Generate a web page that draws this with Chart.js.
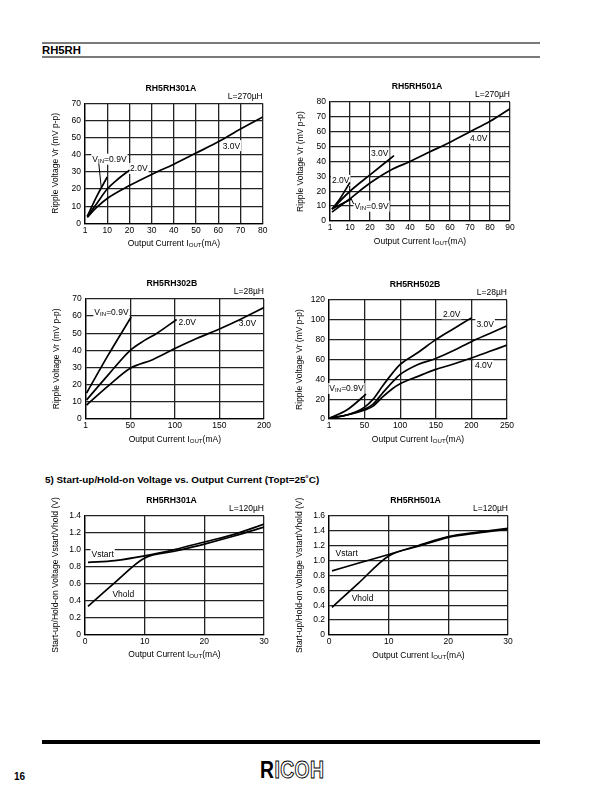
<!DOCTYPE html>
<html>
<head>
<meta charset="utf-8">
<script src="https://cdn.jsdelivr.net/npm/chart.js@4.4.0/dist/chart.umd.min.js"></script>
<style>
    body { margin: 0; width: 609px; height: 793px; background: #fff; position: relative; overflow: hidden; font-family: 'Liberation Sans', Arial, sans-serif; }
    canvas { position: absolute; }
    .rule { position: absolute; left: 42px; width: 498px; height: 1.5px; background: #7a7a7a; }
    .head { position: absolute; left: 42px; top: 44px; font-size: 11.3px; font-weight: bold; }
    .section { position: absolute; left: 45px; top: 474px; font-size: 9.9px; font-weight: bold; white-space: nowrap; }
    .bar { position: absolute; left: 42px; top: 740px; width: 498px; height: 4px; background: #000; }
    .page { position: absolute; left: 14px; top: 771px; font-size: 10px; font-weight: bold; }
    .logo { position: absolute; left: 260px; top: 757px; font-size: 23px; font-weight: bold; transform: scaleX(0.84); transform-origin: left top; letter-spacing: 0.5px; }
    .logo .o { color: #fff; -webkit-text-stroke: 1px #000; }
</style>
</head>
<body>
<div class="rule" style="top:42px"></div>
<div class="head">RH5RH</div>
<div class="rule" style="top:56px"></div>
<div class="section">5) Start-up/Hold-on Voltage vs. Output Current (Topt=25˚C)</div>
<div class="bar"></div>
<div class="page">16</div>
<div class="logo"><span>R</span><span class="o">ICOH</span></div>

<canvas id="c301A"></canvas>
<canvas id="c501A"></canvas>
<canvas id="c302B"></canvas>
<canvas id="c502B"></canvas>
<canvas id="s301A"></canvas>
<canvas id="s501A"></canvas>

<script>
// ---- data ([Iout mA, value]) ----
// RH5RH301A ripple, L=270uH
const r301A_09V = [[1, 4], [5, 15], [10, 27]];
const r301A_20V = [[1, 4], [5, 11], [10, 20], [15, 26], [20, 31]];
const r301A_30V = [[1, 3.5], [5, 9], [10, 14.5], [20, 22], [30, 28.5], [40, 34.5], [50, 41], [60, 47.5], [70, 55], [80, 62]];
const r301A_xTicks = ['1', '10', '20', '30', '40', '50', '60', '70', '80'];

// RH5RH501A ripple, L=270uH
const r501A_09V = [[1, 8], [5, 11], [11, 15]];
const r501A_20V = [[1, 8], [5, 15], [10, 26]];
const r501A_30V = [[1, 8], [10, 20], [20, 31], [32, 44]];
const r501A_40V = [[1, 6], [10, 15], [20, 25.5], [30, 34], [40, 40], [50, 46.5], [60, 53], [70, 60], [80, 67], [90, 75.5]];
const r501A_xTicks = ['1', '10', '20', '30', '40', '50', '60', '70', '80', '90'];

// RH5RH302B ripple, L=28uH
const r302B_09V = [[1, 15], [25, 37], [51, 59.5]];
const r302B_20V = [[1, 11], [25, 25.5], [50, 40], [65, 45.5], [80, 50], [102, 58]];
const r302B_30V = [[1, 8], [25, 19], [50, 29.5], [75, 34.5], [100, 41], [125, 47], [150, 52.5], [175, 58.5], [200, 65]];
const r302B_xTicks = ['1', '50', '100', '150', '200'];

// RH5RH502B ripple, L=28uH
const r502B_09V = [[1, 1], [25, 9], [52, 25]];
const r502B_20V = [[1, 1], [25, 4], [50, 12], [62, 20], [75, 33], [90, 47], [100, 55], [125, 67], [150, 80], [175, 91], [200, 102]];
const r502B_30V = [[1, 1], [25, 4], [50, 10], [62, 15], [75, 26], [90, 38], [100, 45], [125, 55], [150, 61], [175, 69], [200, 78], [225, 86], [250, 94]];
const r502B_40V = [[1, 1], [25, 4], [50, 9], [62, 13], [75, 22], [90, 31], [100, 35.5], [125, 43], [150, 50], [175, 55.5], [200, 61.5], [225, 68], [250, 74.5]];
const r502B_xTicks = ['1', '50', '100', '150', '200', '250'];

// start-up / hold-on, L=120uH
const s301A_start = [[0.5, 0.85], [5, 0.87], [10, 0.925], [15, 1.0], [20, 1.09], [25, 1.18], [30, 1.3]];
const s301A_hold = [[0.5, 0.33], [5, 0.61], [10, 0.9], [15, 0.98], [20, 1.065], [25, 1.16], [30, 1.265]];
const s501A_start = [[0.5, 0.86], [5, 0.965], [10, 1.08], [15, 1.2], [20, 1.32], [25, 1.38], [30, 1.43]];
const s501A_hold = [[0.5, 0.37], [5, 0.7], [10, 1.06], [15, 1.19], [20, 1.31], [25, 1.37], [30, 1.42]];
const s_xTicks = ['0', '10', '20', '30'];

const FONT = "'Liberation Sans', Arial, sans-serif";
const Y_W = 26, X_H = 14;

const VIN = v => [['V'], ['IN', 1], ['=' + v]];
const XTITLE = [['Output Current I'], ['OUT', 1], ['(mA)']];

function fontOf(size, sub, bold) {
    return (bold ? 'bold ' : '') + (sub ? size * 0.72 : size) + 'px ' + FONT;
}

function richWidth(ctx, parts, size) {
    let w = 0;
    parts.forEach(([t, sub]) => {
        ctx.font = fontOf(size, sub);
        w += ctx.measureText(t).width;
    });
    return w;
}

// draws text made of normal and subscript pieces, y is the text middle
function drawRich(ctx, parts, x, y, size, align) {
    const w = richWidth(ctx, parts, size);
    let cx = align === 'center' ? x - w / 2 : align === 'right' ? x - w : x;
    const base = y + size * 0.35;
    ctx.textAlign = 'left';
    ctx.textBaseline = 'alphabetic';
    parts.forEach(([t, sub]) => {
        ctx.font = fontOf(size, sub);
        ctx.fillText(t, cx, base + (sub ? 1 : 0));
        cx += ctx.measureText(t).width;
    });
    return w;
}

const sheetText = {
    id: 'sheetText',
    beforeDatasetsDraw(chart, args, o) {
        const { ctx, scales: { x, y } } = chart;
        ctx.save();
        (o.notes || []).forEach(n => {
            const px = x.getPixelForValue(n.at[0]);
            const py = y.getPixelForValue(n.at[1]);
            const w = richWidth(ctx, n.parts, 8.5);
            ctx.fillStyle = '#fff';
            ctx.fillRect(px - 1, py - 5.5, w + 2, 11);
            ctx.fillStyle = '#000';
            drawRich(ctx, n.parts, px, py, 8.5, 'left');
        });
        ctx.restore();
    },
    afterDraw(chart, args, o) {
        const { ctx, chartArea: a, scales: { x, y } } = chart;
        const cx = (a.left + a.right) / 2, cy = (a.top + a.bottom) / 2;
        ctx.save();
        ctx.fillStyle = '#000';

        ctx.font = fontOf(8.7, false, true);
        ctx.textAlign = 'center';
        ctx.textBaseline = 'middle';
        ctx.fillText(o.title, cx - 3, a.top - 15);

        drawRich(ctx, [[o.ind]], a.right, a.top - 7.5, 8.5, 'right');
        drawRich(ctx, XTITLE, cx, a.bottom + 20, 8.5, 'center');

        ctx.save();
        ctx.translate(a.left - 29.5, cy);
        ctx.rotate(-Math.PI / 2);
        drawRich(ctx, [[o.ytitle]], 0, 0, 8.5, 'center');
        ctx.restore();

        ctx.strokeStyle = '#000';
        ctx.lineWidth = 1;
        (o.leaders || []).forEach(l => {
            ctx.beginPath();
            ctx.moveTo(x.getPixelForValue(l[0]), y.getPixelForValue(l[1]));
            ctx.lineTo(x.getPixelForValue(l[2]), y.getPixelForValue(l[3]));
            ctx.stroke();
        });
        ctx.restore();
    }
};

function makeChart(id, box, area, opt) {
    const cv = document.getElementById(id);
    cv.width = box[2];
    cv.height = box[3];
    cv.style.left = box[0] + 'px';
    cv.style.top = box[1] + 'px';
    const pad = {
        left: area[0] - box[0] - Y_W,
        top: area[1] - box[1],
        right: box[0] + box[2] - area[2],
        bottom: box[1] + box[3] - area[3] - X_H
    };
    const tickFont = { family: FONT, size: 8.5 };
    return new Chart(cv, {
        type: 'line',
        data: {
            datasets: opt.series.map(s => ({
                data: s,
                borderColor: '#000',
                borderWidth: 1.7,
                pointRadius: 0,
                cubicInterpolationMode: 'monotone',
                fill: false
            }))
        },
        options: {
            responsive: false,
            animation: false,
            layout: { padding: pad },
            plugins: {
                legend: { display: false },
                tooltip: { enabled: false },
                sheetText: opt.text
            },
            scales: {
                x: {
                    type: 'linear',
                    min: opt.x[0],
                    max: opt.x[1],
                    afterFit: s => { s.height = X_H; },
                    ticks: {
                        stepSize: opt.x[2],
                        color: '#000',
                        font: tickFont,
                        padding: 2,
                        maxRotation: 0,
                        autoSkip: false,
                        callback: (v, i) => opt.xTicks[i]
                    },
                    grid: { color: '#222', lineWidth: 1.3, drawTicks: false },
                    border: { color: '#000', width: 1.3 }
                },
                y: {
                    min: opt.y[0],
                    max: opt.y[1],
                    afterFit: s => { s.width = Y_W; },
                    ticks: {
                        stepSize: opt.y[2],
                        color: '#000',
                        font: tickFont,
                        padding: 4,
                        callback: opt.yFmt || (v => String(v))
                    },
                    grid: { color: '#222', lineWidth: 1.3, drawTicks: false },
                    border: { color: '#000', width: 1.3 }
                }
            }
        },
        plugins: [sheetText]
    });
}

const RIPPLE = 'Ripple Voltage Vr (mV p-p)';
const STARTUP = 'Start-up/Hold-on Voltage Vstart/Vhold (V)';
const oneDec = v => v === 0 ? '0' : v.toFixed(1);

makeChart('c301A', [40, 78, 245, 180], [85, 103.3, 262.7, 223.3], {
    series: [r301A_09V, r301A_20V, r301A_30V],
    x: [0, 80, 10], y: [0, 70, 10], xTicks: r301A_xTicks,
    text: {
        title: 'RH5RH301A', ind: 'L=270µH', ytitle: RIPPLE,
        notes: [
            { parts: VIN('0.9V'), at: [3.3, 37.4] },
            { parts: [['2.0V']], at: [20.3, 32] },
            { parts: [['3.0V']], at: [62, 45.3] }
        ],
        leaders: [[6.2, 35, 7.3, 21]]
    }
});

makeChart('c501A', [290, 78, 245, 180], [330, 102, 510, 221], {
    series: [r501A_09V, r501A_20V, r501A_30V, r501A_40V],
    x: [0, 90, 10], y: [0, 80, 10], xTicks: r501A_xTicks,
    text: {
        title: 'RH5RH501A', ind: 'L=270µH', ytitle: RIPPLE,
        notes: [
            { parts: [['2.0V']], at: [1, 27.3] },
            { parts: [['3.0V']], at: [20.5, 45.5] },
            { parts: [['4.0V']], at: [70, 55.6] },
            { parts: VIN('0.9V'), at: [12.2, 10] }
        ],
        leaders: [[11.8, 11.5, 10.8, 14.3]]
    }
});

makeChart('c302B', [40, 278, 245, 180], [85.7, 299, 264, 418.7], {
    series: [r302B_09V, r302B_20V, r302B_30V],
    x: [0, 200, 50], y: [0, 70, 10], xTicks: r302B_xTicks,
    text: {
        title: 'RH5RH302B', ind: 'L=28µH', ytitle: RIPPLE,
        notes: [
            { parts: VIN('0.9V'), at: [9.7, 62.6] },
            { parts: [['2.0V']], at: [104, 56.3] },
            { parts: [['3.0V']], at: [171.6, 55.9] }
        ]
    }
});

makeChart('c502B', [290, 278, 245, 180], [329, 300, 507, 419], {
    series: [r502B_09V, r502B_20V, r502B_30V, r502B_40V],
    x: [0, 250, 50], y: [0, 120, 20], xTicks: r502B_xTicks,
    text: {
        title: 'RH5RH502B', ind: 'L=28µH', ytitle: RIPPLE,
        notes: [
            { parts: [['2.0V']], at: [160, 106] },
            { parts: [['3.0V']], at: [207, 96] },
            { parts: [['4.0V']], at: [205, 54] },
            { parts: VIN('0.9V'), at: [0.5, 30.8] }
        ]
    }
});

makeChart('s301A', [40, 490, 245, 175], [85, 515.7, 264, 634.3], {
    series: [s301A_start, s301A_hold],
    x: [0, 30, 10], y: [0, 1.4, 0.2], xTicks: s_xTicks, yFmt: oneDec,
    text: {
        title: 'RH5RH301A', ind: 'L=120µH', ytitle: STARTUP,
        notes: [
            { parts: [['Vstart']], at: [1.1, 0.95] },
            { parts: [['Vhold']], at: [4.6, 0.475] }
        ]
    }
});

makeChart('s501A', [290, 490, 245, 175], [329, 515.7, 508, 635], {
    series: [s501A_start, s501A_hold],
    x: [0, 30, 10], y: [0, 1.6, 0.2], xTicks: s_xTicks, yFmt: oneDec,
    text: {
        title: 'RH5RH501A', ind: 'L=120µH', ytitle: STARTUP,
        notes: [
            { parts: [['Vstart']], at: [1.1, 1.1] },
            { parts: [['Vhold']], at: [3.8, 0.5] }
        ]
    }
});
</script>
</body>
</html>
